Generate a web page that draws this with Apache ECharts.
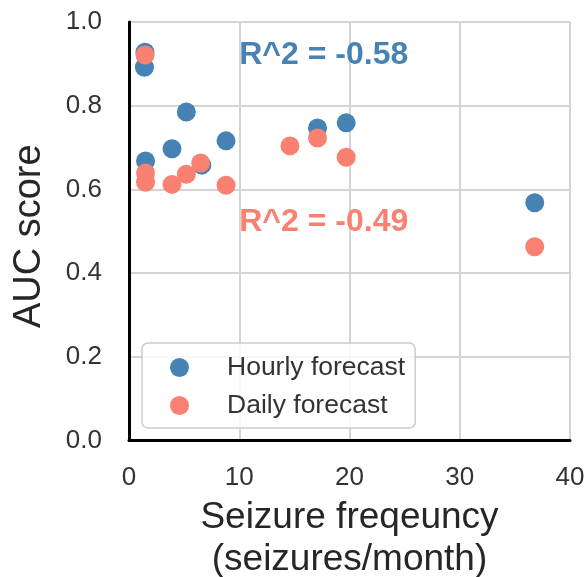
<!DOCTYPE html>
<html>
<head>
<meta charset="utf-8">
<script src="https://cdn.jsdelivr.net/npm/echarts@6/dist/echarts.min.js"></script>
<style>
html,body{margin:0;padding:0;background:#fff;}
#chart{width:587px;height:577px;}
</style>
</head>
<body>
<div id="chart"></div>
<script>
const hourlyX = [1.45, 1.4, 1.5, 3.9, 5.2, 6.6, 8.8, 17.1, 19.7, 36.8];
const hourlyY = [0.928, 0.892, 0.668, 0.697, 0.785, 0.658, 0.716, 0.747, 0.759, 0.568];
const dailyX = [1.45, 1.5, 1.5, 3.9, 5.2, 6.5, 8.8, 14.6, 17.1, 19.7, 36.8];
const dailyY = [0.921, 0.639, 0.617, 0.612, 0.636, 0.663, 0.610, 0.704, 0.723, 0.677, 0.463];
const xTicks = [0, 10, 20, 30, 40];
const yTicks = [0.0, 0.2, 0.4, 0.6, 0.8, 1.0];
const seriesNames = ['Hourly forecast', 'Daily forecast'];
const annotations = [
  {text: 'R^2 = -0.58', x: 10, y: 0.9, color: '#4682B4'},
  {text: 'R^2 = -0.49', x: 10, y: 0.5, color: '#FA8072'}
];

const FONT = '"Liberation Sans", Arial, Helvetica, sans-serif';
const chart = echarts.init(document.getElementById('chart'), null, {width: 587, height: 577});
const zip = (xs, ys) => xs.map((x, i) => [x, ys[i]]);

chart.setOption({
  animation: false,
  backgroundColor: '#ffffff',
  grid: {left: 129, width: 441, top: 22, height: 418.5, containLabel: false, outerBoundsMode: 'none'},
  xAxis: {
    type: 'value', min: xTicks[0], max: xTicks[xTicks.length - 1], interval: 10,
    name: 'Seizure freqeuncy\n(seizures/month)', nameLocation: 'middle', nameGap: 56,
    nameTextStyle: {fontFamily: FONT, fontSize: 37, color: '#262626', lineHeight: 42},
    axisLine: {show: true, onZero: false, lineStyle: {color: '#000', width: 3}},
    axisTick: {show: false},
    axisLabel: {fontFamily: FONT, fontSize: 26, color: '#333', margin: 24},
    splitLine: {show: true, lineStyle: {color: '#d4d4d4', width: 2}}
  },
  yAxis: {
    type: 'value', min: yTicks[0], max: yTicks[yTicks.length - 1], interval: 0.2,
    name: 'AUC score', nameLocation: 'middle', nameGap: 80,
    nameTextStyle: {fontFamily: FONT, fontSize: 38, color: '#262626', padding: [0, 10, 0, 0]},
    axisLine: {show: true, onZero: false, lineStyle: {color: '#000', width: 3}},
    axisTick: {show: false},
    axisLabel: {fontFamily: FONT, fontSize: 26, color: '#333', margin: 27,
      formatter: v => v.toFixed(1)},
    splitLine: {show: true, lineStyle: {color: '#d4d4d4', width: 2}}
  },
  legend: {
    orient: 'vertical', left: 142, top: 343,
    padding: [11, 10, 9, 28],
    itemWidth: 19, itemHeight: 19, itemGap: 11,
    backgroundColor: 'rgba(255,255,255,0.8)',
    borderColor: '#cccccc', borderWidth: 1.5, borderRadius: 6,
    textStyle: {fontFamily: FONT, fontSize: 26.5, color: '#333', padding: [0, 0, 0, 33]},
    data: seriesNames.map(n => ({name: n, icon: 'circle'}))
  },
  series: [
    {name: seriesNames[0], type: 'scatter', symbolSize: 19,
     itemStyle: {color: '#4682B4', opacity: 1}, data: zip(hourlyX, hourlyY), z: 2},
    {name: seriesNames[1], type: 'scatter', symbolSize: 19,
     itemStyle: {color: '#FA8072', opacity: 1}, data: zip(dailyX, dailyY), z: 3}
  ]
});

const g = annotations.map(a => {
  const p = chart.convertToPixel({gridIndex: 0}, [a.x, a.y]);
  return {
    type: 'text', x: p[0], y: p[1] + 7, z: 10,
    style: {text: a.text, fill: a.color, fontFamily: FONT, fontWeight: 'bold',
      fontSize: 32, align: 'left', verticalAlign: 'bottom'}
  };
});
chart.setOption({graphic: g});
</script>
</body>
</html>
